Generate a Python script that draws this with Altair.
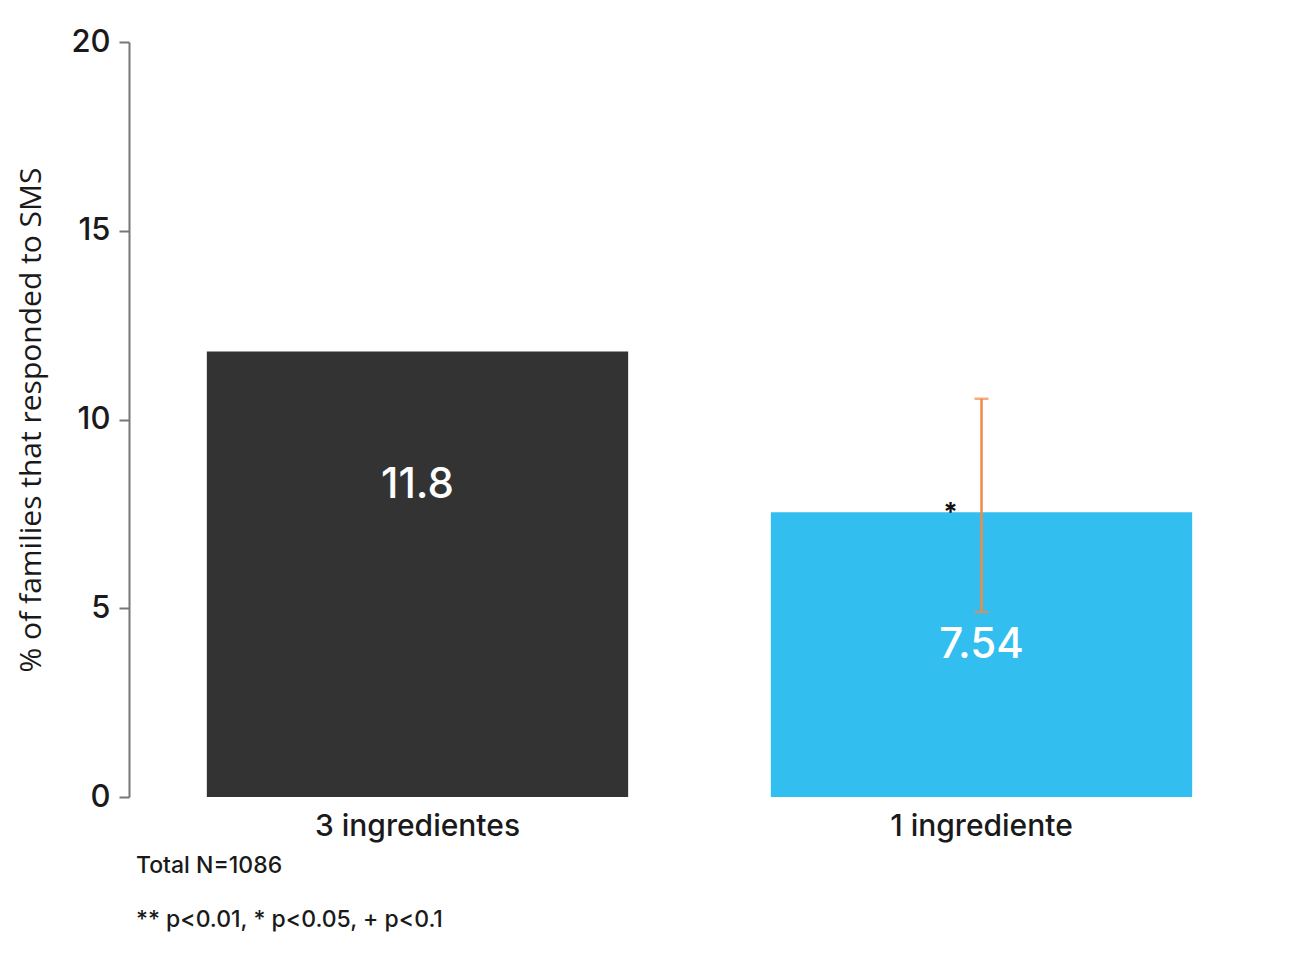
import altair as alt
import pandas as pd

categories = ["3 ingredientes", "1 ingrediente"]
values = [11.8, 7.54]
labels = ["11.8", "7.54"]
bar_colors = ["#333333", "#33BEF0"]
err_lo = [4.9]
err_hi = [10.55]
err_cat = ["1 ingrediente"]
sig_cat = ["1 ingrediente"]
sig_val = [7.54]
sig_mark = ["*"]
note_1 = ["Total N=1086"]
note_2 = ["** p<0.01, * p<0.05, + p<0.1"]

FONT = "Inter"

bars_df = pd.DataFrame({"cat": categories, "val": values, "lab": labels, "col": bar_colors})
err_df = pd.DataFrame({"cat": err_cat, "lo": err_lo, "hi": err_hi})
sig_df = pd.DataFrame({"cat": sig_cat, "val": sig_val, "m": sig_mark})

xenc = alt.X("cat:N", sort=categories,
             scale=alt.Scale(paddingInner=0.253, paddingOuter=0.138),
             axis=alt.Axis(title=None, labelAngle=0, domain=False, ticks=False,
                           labelFontSize=30, labelFont=FONT, labelFontWeight=500,
                           labelColor="#1a1a1a", labelPadding=14, labelLimit=600))
yscale = alt.Scale(domain=[0, 20], nice=False)
xs = alt.X("cat:N", sort=categories)

base = alt.Chart(bars_df)

bars = base.mark_bar().encode(
    x=xenc,
    y=alt.Y("val:Q", scale=yscale,
            axis=alt.Axis(title="% of families that responded to SMS", values=[0, 5, 10, 15, 20],
                          grid=False, domainColor="#777777", domainWidth=2,
                          tickColor="#777777", tickWidth=2, tickSize=10,
                          labelFontSize=31, labelFont=FONT, labelFontWeight=500,
                          labelColor="#1a1a1a", labelPadding=9,
                          titleFontSize=30, titleFont="Open Sans", titleFontWeight="normal",
                          titleColor="#1a1a1a", titlePadding=24, titleLimit=800)),
    color=alt.Color("col:N", scale=None),
)

bar_text = base.mark_text(color="white", fontSize=42, font=FONT, fontWeight=500,
                          baseline="middle", dy=133).encode(
    x=xs, y=alt.Y("val:Q", scale=yscale), text="lab:N"
)

ERR = "#EF8A48"
err_rule = alt.Chart(err_df).mark_rule(color=ERR, strokeWidth=2.5).encode(
    x=xs, y=alt.Y("lo:Q", scale=yscale), y2="hi:Q"
)
cap_lo = alt.Chart(err_df).mark_tick(color=ERR, thickness=2.5, size=14).encode(
    x=xs, y=alt.Y("lo:Q", scale=yscale)
)
cap_hi = alt.Chart(err_df).mark_tick(color=ERR, thickness=2.5, size=14).encode(
    x=xs, y=alt.Y("hi:Q", scale=yscale)
)

sig = alt.Chart(sig_df).mark_text(fontSize=26, font=FONT, fontWeight="bold", color="#111111",
                                  baseline="middle", dx=-31, dy=1).encode(
    x=xs, y=alt.Y("val:Q", scale=yscale), text="m:N"
)

n1 = alt.Chart(pd.DataFrame({"t": note_1})).mark_text(
    align="left", baseline="middle", fontSize=23, font=FONT, fontWeight=500, color="#1a1a1a"
).encode(x=alt.value(7), y=alt.value(824), text="t:N")
n2 = alt.Chart(pd.DataFrame({"t": note_2})).mark_text(
    align="left", baseline="middle", fontSize=23, font=FONT, fontWeight=500, color="#1a1a1a"
).encode(x=alt.value(7), y=alt.value(878), text="t:N")

chart = alt.layer(bars, bar_text, err_rule, cap_lo, cap_hi, sig, n1, n2).properties(
    width=1141, height=755, autosize="none", background="white",
    padding={"left": 121, "top": 34, "right": 15, "bottom": 155},
).configure_view(strokeWidth=0, stroke="transparent").configure_axis(grid=False)

chart.save("out.html", embed_options={"renderer": "svg", "actions": False})
